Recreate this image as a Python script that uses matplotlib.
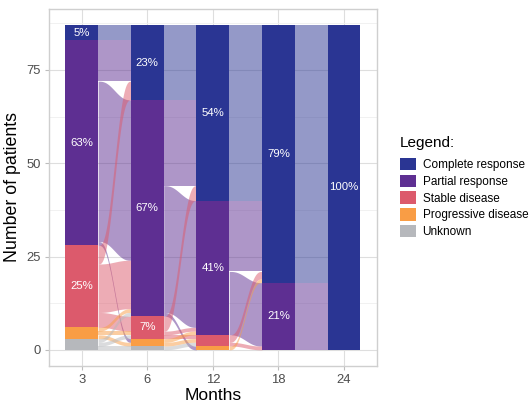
import numpy as np
import matplotlib
matplotlib.use("Agg")
import matplotlib.pyplot as plt
from matplotlib.patches import Patch

plt.rcParams['font.family'] = ['Liberation Sans', 'DejaVu Sans']

# ---------------- data ----------------
months = ['3', '6', '12', '18', '24']
categories = ['Complete response', 'Partial response', 'Stable disease',
              'Progressive disease', 'Unknown']
colors = ['#2A3593', '#5E2F92', '#DC5A6C', '#F99D45', '#B6B8BC']

# patients per response category at each time point (order = categories)
counts_3 = [4, 55, 22, 3, 3]
counts_6 = [20, 58, 6, 2, 1]
counts_12 = [47, 36, 3, 1, 0]
counts_18 = [69, 18, 0, 0, 0]
counts_24 = [87, 0, 0, 0, 0]
counts = [counts_3, counts_6, counts_12, counts_18, counts_24]

# transitions between consecutive time points (rows: from, cols: to)
trans_3_6 = [[4, 0, 0, 0, 0],
             [11, 43, 0, 1, 0],
             [5, 13, 4, 0, 0],
             [0, 1, 1, 1, 0],
             [0, 1, 1, 0, 1]]
trans_6_12 = [[20, 0, 0, 0, 0],
              [23, 34, 0, 1, 0],
              [4, 1, 1, 0, 0],
              [0, 1, 1, 0, 0],
              [0, 0, 1, 0, 0]]
trans_12_18 = [[47, 0, 0, 0, 0],
               [19, 17, 0, 0, 0],
               [2, 1, 0, 0, 0],
               [1, 0, 0, 0, 0],
               [0, 0, 0, 0, 0]]
trans_18_24 = [[69, 0, 0, 0, 0],
               [18, 0, 0, 0, 0],
               [0, 0, 0, 0, 0],
               [0, 0, 0, 0, 0],
               [0, 0, 0, 0, 0]]
transitions = [trans_3_6, trans_6_12, trans_12_18, trans_18_24]

# ---------------- figure ----------------
W, H = 531, 403
fig = plt.figure(figsize=(W / 100, H / 100), dpi=100)
ax = fig.add_axes([49 / W, 1 - 366 / H, (376.7 - 49) / W, (366 - 9) / H])

xpos = np.arange(1, len(months) + 1)
hw = 0.25


def tops(c):
    t = []
    cur = sum(c)
    for v in c:
        t.append(cur)
        cur -= v
    return t


def sig(t):
    return t * t * t * (t * (t * 6 - 15) + 10)


# flows
tt = np.linspace(0, 1, 80)
for i, T in enumerate(transitions):
    T = np.array(T)
    out_cur = list(tops(counts[i]))
    in_cur = list(tops(counts[i + 1]))
    in_pos = np.zeros(T.shape + (2,))
    for d in range(T.shape[1]):
        for s in range(T.shape[0]):
            v = T[s, d]
            in_pos[s, d] = (in_cur[d], in_cur[d] - v)
            in_cur[d] -= v
    x0 = xpos[i] + hw
    x1 = xpos[i + 1] - hw
    xs = x0 + (x1 - x0) * tt
    s_t = sig(tt)
    for s in range(T.shape[0]):
        for d in range(T.shape[1]):
            v = T[s, d]
            if v == 0:
                continue
            lt, lb = out_cur[s], out_cur[s] - v
            out_cur[s] -= v
            rt, rb = in_pos[s, d]
            upper = lt + (rt - lt) * s_t
            lower = lb + (rb - lb) * s_t
            ax.fill_between(xs, lower, upper, color=colors[s], alpha=0.5,
                            linewidth=0, zorder=2)

# strata
total = sum(counts[0])
for i, c in enumerate(counts):
    tp = tops(c)
    for k, v in enumerate(c):
        if v == 0:
            continue
        ax.bar(xpos[i], v, bottom=tp[k] - v, width=2 * hw, color=colors[k],
               linewidth=0, zorder=3)
        pct = round(100 * v / total)
        if pct >= 5:
            ax.text(xpos[i], tp[k] - v / 2, f'{pct}%', color='white',
                    ha='center', va='center', fontsize=8.2, zorder=4)

# axes styling
ax.set_xlim(0.5, 5.5)
ax.set_ylim(-4.35, 91.35)
ax.set_xticks(xpos)
ax.set_xticklabels(months)
ax.set_yticks([0, 25, 50, 75])
ax.set_yticks([12.5, 37.5, 62.5, 87.5], minor=True)
ax.grid(True, which='major', color='#DEDEDE', linewidth=0.8, zorder=0)
ax.grid(True, which='minor', axis='y', color='#EFEFEF', linewidth=0.6, zorder=0)
ax.set_axisbelow(True)
for sp in ax.spines.values():
    sp.set_color('#CFCFCF')
    sp.set_linewidth(1.0)
ax.tick_params(which='major', length=3, color='#BDBDBD', labelcolor='#4D4D4D',
               labelsize=9.4, pad=3)
ax.tick_params(which='minor', length=0)
ax.set_xlabel('Months', fontsize=12.5, color='black', labelpad=1)
ax.set_ylabel('Number of patients', fontsize=12.8, color='black', labelpad=4)

fig.text(400 / W, 1 - 143 / H, 'Legend:', fontsize=11, ha='left', va='center')
handles = [Patch(facecolor=c, edgecolor='none', label=l)
           for c, l in zip(colors, categories)]
leg = fig.legend(handles=handles, loc='upper left',
                 bbox_to_anchor=(400 / W, 1 - 158 / H), frameon=False,
                 fontsize=8.5, handlelength=1.36, handleheight=1.24,
                 labelspacing=0.3, handletextpad=0.55,
                 borderpad=0, borderaxespad=0)

fig.savefig('out.png', dpi=100)
